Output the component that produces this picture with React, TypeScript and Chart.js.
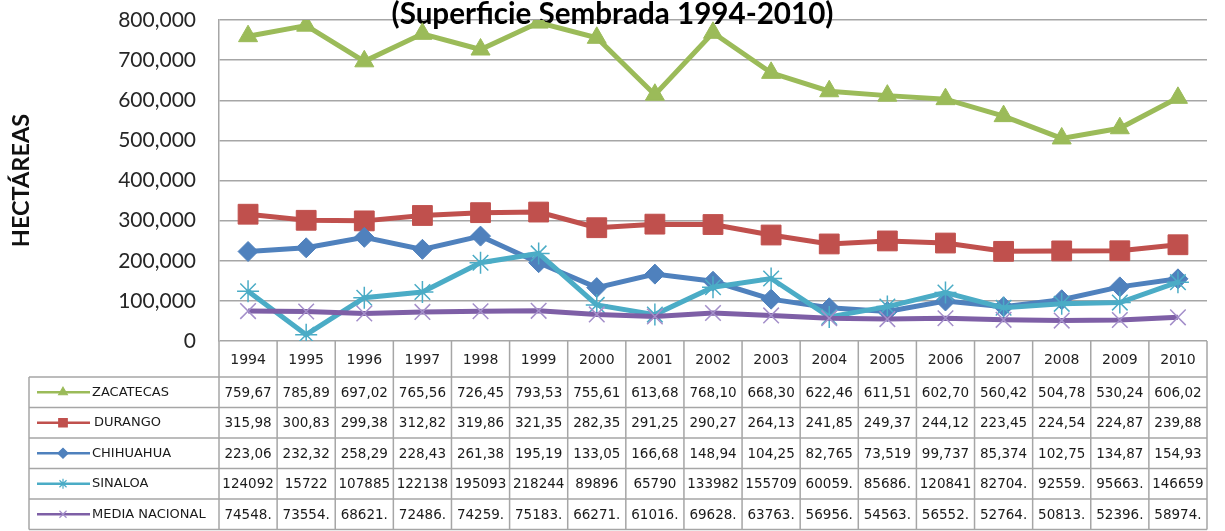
import React, { useEffect, useRef } from 'react';
import { Chart, registerables } from 'chart.js';
import { drawPoint } from 'chart.js/helpers';

Chart.register(...registerables);

const chartTitle = '(Superficie Sembrada 1994-2010)';
const yAxisTitle = 'HECTÁREAS';

const years = ['1994', '1995', '1996', '1997', '1998', '1999', '2000', '2001', '2002', '2003', '2004', '2005', '2006', '2007', '2008', '2009', '2010'];

const zacatecas = [759670, 785890, 697020, 765560, 726450, 793530, 755610, 613680, 768100, 668300, 622460, 611510, 602700, 560420, 504780, 530240, 606020];
const durango = [315980, 300830, 299380, 312820, 319860, 321350, 282350, 291250, 290270, 264130, 241850, 249370, 244120, 223450, 224540, 224870, 239880];
const chihuahua = [223060, 232320, 258290, 228430, 261380, 195190, 133050, 166680, 148940, 104250, 82765, 73519, 99737, 85374, 102750, 134870, 154930];
const sinaloa = [124092, 15722, 107885, 122138, 195093, 218244, 89896, 65790, 133982, 155709, 60059, 85686, 120841, 82704, 92559, 95663, 146659];
const mediaNacional = [74548, 73554, 68621, 72486, 74259, 75183, 66271, 61016, 69628, 63763, 56956, 54563, 56552, 52764, 50813, 52396, 58974];

// Table cell texts as printed (truncated) in the data table
const zacatecasText = ['759,67', '785,89', '697,02', '765,56', '726,45', '793,53', '755,61', '613,68', '768,10', '668,30', '622,46', '611,51', '602,70', '560,42', '504,78', '530,24', '606,02'];
const durangoText = ['315,98', '300,83', '299,38', '312,82', '319,86', '321,35', '282,35', '291,25', '290,27', '264,13', '241,85', '249,37', '244,12', '223,45', '224,54', '224,87', '239,88'];
const chihuahuaText = ['223,06', '232,32', '258,29', '228,43', '261,38', '195,19', '133,05', '166,68', '148,94', '104,25', '82,765', '73,519', '99,737', '85,374', '102,75', '134,87', '154,93'];
const sinaloaText = ['124092', '15722', '107885', '122138', '195093', '218244', '89896', '65790', '133982', '155709', '60059.', '85686.', '120841', '82704.', '92559.', '95663.', '146659'];
const mediaText = ['74548.', '73554.', '68621.', '72486.', '74259.', '75183.', '66271.', '61016.', '69628.', '63763.', '56956.', '54563.', '56552.', '52764.', '50813.', '52396.', '58974.'];

const seriesNames = ['ZACATECAS', 'DURANGO', 'CHIHUAHUA', 'SINALOA', 'MEDIA NACIONAL'];
const seriesColors = ['#9BBB59', '#C0504D', '#4F81BD', '#4BACC6', '#7E5FA6'];
const markerColors = ['#9BBB59', '#C0504D', '#4F81BD', '#4BACC6', '#A48FCA'];
const seriesStyles = ['triangle', 'rect', 'rectRot', 'star', 'crossRot'];
const seriesValues = [zacatecas, durango, chihuahua, sinaloa, mediaNacional];
const seriesTexts = [zacatecasText, durangoText, chihuahuaText, sinaloaText, mediaText];
const pointRadii = [11, 14, 10, 11, 11];

const yMin = 0;
const yMax = 800000;
const yStep = 100000;

const GRID = '#a6a6a6';

const titlePlugin = {
  id: 'overlapTitle',
  beforeDatasetsDraw(chart: any) {
    const { ctx } = chart;
    ctx.save();
    ctx.font = 'bold 22px Lato';
    const w = ctx.measureText(chartTitle).width;
    const size = (22 * 442) / w;
    ctx.font = `bold ${size.toFixed(1)}px Lato`;
    ctx.fillStyle = '#000';
    ctx.textAlign = 'center';
    ctx.textBaseline = 'alphabetic';
    ctx.fillText(chartTitle, chart.width / 2, 24);
    ctx.restore();
  },
};

const tablePlugin = {
  id: 'dataTable',
  afterDraw(chart: any) {
    const { ctx, chartArea } = chart;
    const x = chart.scales.x;
    const n = years.length;
    const step = x.getPixelForValue(1) - x.getPixelForValue(0);
    const top = chartArea.bottom;
    const headerBottom = top + 36;
    const tableBottom = chart.height - 1.5;
    const rowH = (tableBottom - headerBottom) / seriesNames.length;
    const legendLeft = 29;

    ctx.save();
    ctx.strokeStyle = GRID;
    ctx.lineWidth = 1.5;
    ctx.beginPath();
    for (let i = 0; i <= n; i++) {
      const bx = i < n ? x.getPixelForValue(i) - step / 2 : x.getPixelForValue(n - 1) + step / 2;
      ctx.moveTo(bx, top);
      ctx.lineTo(bx, tableBottom);
    }
    for (let r = 0; r <= seriesNames.length; r++) {
      const yy = headerBottom + r * rowH;
      ctx.moveTo(legendLeft, yy);
      ctx.lineTo(chartArea.right, yy);
    }
    ctx.moveTo(legendLeft, headerBottom);
    ctx.lineTo(legendLeft, tableBottom);
    ctx.stroke();

    // header years
    ctx.fillStyle = '#222';
    ctx.textAlign = 'center';
    ctx.textBaseline = 'middle';
    ctx.font = '14px "DejaVu Sans"';
    for (let i = 0; i < n; i++) {
      ctx.fillText(years[i], x.getPixelForValue(i), (top + headerBottom) / 2 + 1);
    }

    // rows
    for (let s = 0; s < seriesNames.length; s++) {
      const yMid = headerBottom + (s + 0.5) * rowH;
      ctx.strokeStyle = seriesColors[s];
      ctx.lineWidth = 2.5;
      ctx.beginPath();
      ctx.moveTo(37, yMid);
      ctx.lineTo(90, yMid);
      ctx.stroke();
      ctx.fillStyle = markerColors[s];
      ctx.strokeStyle = markerColors[s];
      ctx.lineWidth = 1.2;
      drawPoint(ctx, { pointStyle: seriesStyles[s], radius: s === 1 ? 6 : 5, rotation: 0, borderWidth: 1.2 } as any, 63, yMid);

      ctx.fillStyle = '#1a1a1a';
      ctx.textAlign = 'left';
      ctx.font = '13px "DejaVu Sans"';
      ctx.fillText(seriesNames[s], s === 1 ? 94 : 92, yMid);

      ctx.textAlign = 'center';
      ctx.font = '13.5px "DejaVu Sans"';
      const texts = seriesTexts[s];
      for (let i = 0; i < n; i++) {
        ctx.fillText(texts[i], x.getPixelForValue(i), yMid + 1);
      }
    }
    ctx.restore();
  },
};

export default function App() {
  const ref = useRef<HTMLCanvasElement | null>(null);

  useEffect(() => {
    if (!ref.current) return;
    const datasets = seriesNames.map((name, s) => ({
      label: name,
      data: seriesValues[s],
      borderColor: seriesColors[s],
      backgroundColor: markerColors[s],
      borderWidth: 5,
      tension: 0,
      pointStyle: seriesStyles[s] as any,
      pointRadius: pointRadii[s],
      pointBackgroundColor: markerColors[s],
      pointBorderColor: markerColors[s],
      pointBorderWidth: s >= 3 ? 1.5 : 1,
      order: seriesNames.length - s,
    }));

    const chart = new Chart(ref.current, {
      type: 'line',
      data: { labels: years, datasets },
      options: {
        responsive: false,
        animation: false,
        devicePixelRatio: 1,
        layout: { padding: { top: 20, right: 18, bottom: 154, left: 0 } },
        plugins: {
          legend: { display: false },
          title: { display: false },
          tooltip: { enabled: false },
        },
        scales: {
          x: {
            offset: true,
            grid: { display: false },
            border: { display: false },
            ticks: { display: false },
            afterFit: (s: any) => {
              s.height = 36;
            },
          },
          y: {
            min: yMin,
            max: yMax,
            ticks: {
              stepSize: yStep,
              font: { family: 'Lato', size: 21 },
              color: '#262626',
              padding: 0,
              callback: (v: any) => Number(v).toLocaleString('en-US'),
            },
            grid: { color: GRID, lineWidth: 1.5, drawTicks: true, tickLength: 23, tickColor: 'rgba(0,0,0,0)' },
            border: { color: GRID, width: 1.5 },
            title: {
              display: true,
              text: yAxisTitle,
              font: { family: 'Lato', size: 23.5, weight: 'bold' },
              color: '#111',
              padding: { top: 7, bottom: 0 },
            },
            afterFit: (s: any) => {
              s.width = 219;
            },
          },
        },
      } as any,
      plugins: [titlePlugin, tablePlugin],
    });
    return () => chart.destroy();
  }, []);

  return (
    <div style={{ position: 'absolute', left: 0, top: 0, width: 1225, height: 531, background: '#fff' }}>
      <canvas ref={ref} width={1225} height={531} style={{ display: 'block', width: 1225, height: 531 }} />
    </div>
  );
}
